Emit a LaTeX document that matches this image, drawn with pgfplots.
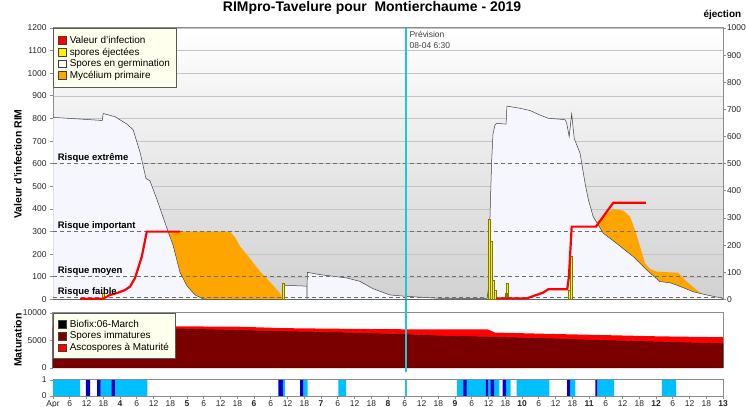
\documentclass[border=0pt]{standalone}
\usepackage{fontspec}
\setmainfont{Liberation Sans}
\usepackage{pgfplots}
\pgfplotsset{compat=1.18}
\definecolor{germ}{HTML}{F6F6FF}
\definecolor{myc}{HTML}{FFA500}
\definecolor{immat}{HTML}{7A0000}
\definecolor{wetc}{HTML}{00BFFF}
\definecolor{wetd}{HTML}{0000C8}
\definecolor{prev}{HTML}{1EC8D2}
\definecolor{gridc}{HTML}{C4C4C4}
\definecolor{riskc}{HTML}{6E6E6E}
\definecolor{legbg}{HTML}{FFFFEE}
\definecolor{olivec}{HTML}{7A7A00}
\definecolor{framec}{HTML}{8C8C8C}
\pgfplotsset{
  panel/.style={
    scale only axis, width=670bp, xmin=0, xmax=240,
    anchor=south west,
    tick align=outside, major tick length=3bp,
    tick label style={font=\fontsize{8.5}{10}\selectfont, text=black!85},
    /pgf/number format/assume math mode=true,
    /pgf/number format/1000 sep={},
    scaled y ticks=false,
    axis line style={draw=framec, line width=1bp},
    tick style={draw=framec, line width=0.8bp},
    legend cell align=left,
  },
  sq/.style={legend image code/.code={\draw[##1, draw=black!75, line width=0.5bp] (1.5bp,-3.9bp) rectangle (9.3bp,3.9bp); \path (11bp,0bp);}},
  leg/.style={legend style={at={(0,1)}, anchor=north west, fill=legbg, draw=black!65, line width=0.8bp,
    font=\fontsize{10}{11}\selectfont, inner xsep=5bp, inner ysep=6.5bp, row sep=0.5bp,
    nodes={inner sep=1.2bp}}},
}
\begin{document}
\begin{tikzpicture}
\path[use as bounding box] (0,0) rectangle (746bp,407bp);
% title and labels
\node[font=\bfseries\fontsize{14}{16}\selectfont, anchor=base] at (372bp,395bp) {RIMpro-Tavelure pour\ \ Montierchaume - 2019};
\node[font=\bfseries\fontsize{10}{12}\selectfont, anchor=base west] at (700bp,389bp) {éjection};
\node[rotate=90, font=\bfseries\fontsize{10.5}{12}\selectfont] at (18bp,243bp) {Valeur d'infection RIM};
\node[rotate=90, font=\bfseries\fontsize{10.5}{12}\selectfont] at (18bp,67bp) {Maturation};

% ---------------- main panel ----------------
\begin{axis}[panel, sq, leg, at={(53bp,107.5bp)}, height=271.5bp,
  ymin=0, ymax=1200, ytick={0,100,...,1200}, xtick=\empty, ytick pos=left,
  ymajorgrids, grid style={draw=gridc, line width=0.7bp},
  axis background/.style={shade, top color=white, bottom color=black!18},
]
\addlegendimage{fill=red}\addlegendentry{Valeur d'infection}
\addlegendimage{fill=yellow}\addlegendentry{spores éjectées}
\addlegendimage{fill=white}\addlegendentry{Spores en germination}
\addlegendimage{fill=myc}\addlegendentry{Mycélium primaire}
% Mycelium primaire
\addplot[fill=myc, draw=none] coordinates {(36,0) (36,300) (63.4,300) (65.2,275) (67,235) (70.6,180) (74.1,125) (77.7,78) (81.3,27) (82.4,0)} \closedcycle;
\addplot[fill=myc, draw=none] coordinates {(194.5,0) (194.5,340) (197,360) (198.4,381) (200.8,400) (204.4,392) (206.7,366) (208.5,307) (210.3,233) (212.1,160) (213.9,135) (216.3,123) (224,118) (226.4,86) (229.3,55) (231.8,30) (233.9,18) (234.5,0)} \closedcycle;
% Spores en germination
\addplot[fill=germ, draw=black!75, line width=0.5bp] coordinates {(0,805) (16.8,792) (17.6,790) (18.0,822) (22.2,808) (26.5,775) (28.7,750) (31.2,650) (33.3,535) (34.7,525) (37.3,440) (40.8,315) (43,240) (45.5,120) (48,60) (50.9,20) (53.7,3) (56,0) (82.4,0) (82.4,63) (90.9,59) (91.0,0) (91.1,120) (95.6,110) (105.3,95) (110,80) (114.6,48) (120.7,20) (126.5,14) (138.6,5) (149.4,4) (155.5,5) (156,50) (156.5,350) (157.1,603) (157.6,730) (158.3,771) (159,779) (162.3,775) (162.6,855) (167.3,845) (170.9,835) (174.5,815) (177.4,801) (183.4,795) (184,780) (184.9,720) (185.8,820) (186.7,712) (188.8,646) (190.6,513) (191.8,440) (193.5,366) (195.3,330) (197.1,293) (201.9,248) (207.9,189) (212.7,130) (217.4,79) (221,74) (223.4,64) (229.4,34) (234.2,20) (240,5)} \closedcycle;
% risk lines
\addplot[riskc, dash pattern=on 4bp off 3bp, line width=0.9bp] coordinates {(0,600) (240,600)};
\addplot[riskc, dash pattern=on 4bp off 3bp, line width=0.9bp] coordinates {(0,300) (240,300)};
\addplot[riskc, dash pattern=on 4bp off 3bp, line width=0.9bp] coordinates {(0,100) (240,100)};
\addplot[riskc, dash pattern=on 4bp off 3bp, line width=0.9bp] coordinates {(0,10) (240,10)};
% spores ejectees (right axis values x 1.2)
\addplot[ybar, bar width=2bp, bar shift=0pt, fill=yellow, draw=olivec, line width=0.4bp] coordinates {(17.9,30) (82.4,74) (156.4,354) (157.1,256) (157.8,86) (158.3,42) (162.2,30) (162.7,72) (184.8,42) (185.6,190)};
% valeur d'infection
\addplot[red, line width=2.2bp] coordinates {(9.7,3) (17.9,3) (20.4,20) (23.3,30) (25.8,42) (27.6,57) (29.4,95) (31.8,189) (33,263) (33.6,300) (45.5,300)};
\addplot[red, line width=2.2bp] coordinates {(158.7,5) (169.7,5) (175.5,30) (177.4,45) (184.2,45) (184.8,100) (185.8,322) (194.5,322) (200.7,428) (212.4,428)};
% prevision
\addplot[prev, line width=2bp] coordinates {(126.5,0) (126.5,1200)};
\node[anchor=north west, align=left, font=\fontsize{8.5}{11}\selectfont, text=black!75, inner sep=1bp] at (axis cs:127.3,1192) {Prévision\\08-04 6:30};
\node[anchor=south west, font=\bfseries\fontsize{9.5}{11}\selectfont, inner sep=1bp] at (axis cs:1.3,600) {Risque extrême};
\node[anchor=south west, font=\bfseries\fontsize{9.5}{11}\selectfont, inner sep=1bp] at (axis cs:1.3,300) {Risque important};
\node[anchor=south west, font=\bfseries\fontsize{9.5}{11}\selectfont, inner sep=1bp] at (axis cs:1.3,100) {Risque moyen};
\node[anchor=south west, font=\bfseries\fontsize{9.5}{11}\selectfont, inner sep=1bp] at (axis cs:1.3,10) {Risque faible};
\end{axis}
% right axis
\begin{axis}[panel, at={(53bp,107.5bp)}, height=271.5bp,
  ymin=0, ymax=1000, ytick={0,100,...,1000}, axis y line*=right, axis x line=none,
  yticklabel style={inner sep=0.8bp}]
\addplot[draw=none] coordinates {(0,0)};
\end{axis}

% ---------------- maturation ----------------
\begin{axis}[panel, sq, leg, at={(53bp,39bp)}, height=55bp,
  ymin=0, ymax=10000, ytick={0,5000,10000}, xtick=\empty, ytick pos=left, clip=false,
  legend style={inner ysep=5.5bp},
]
\addlegendimage{fill=black}\addlegendentry{Biofix:06-March}
\addlegendimage{fill=immat}\addlegendentry{Spores immatures}
\addlegendimage{fill=red}\addlegendentry{Ascospores à Maturité}
\addplot[fill=red, draw=none] coordinates {(0,7750) (43.7,7580) (67,7500) (82.4,7250) (99.2,7150) (123.2,7050) (138.6,7000) (155.8,7000) (158.3,6450) (178,6200) (196,6000) (217.4,5750) (240,5600)} \closedcycle;
\addplot[fill=immat, draw=black, line width=0.4bp] coordinates {(0,7350) (43.7,7100) (67,6800) (82.4,6600) (99.2,6450) (123.2,6100) (138.6,5800) (155.8,5600) (178,5300) (196,5000) (217.4,4700) (240,4400)} \closedcycle;
\addplot[prev, line width=2bp] coordinates {(126.5,-700) (126.5,12400)};
\end{axis}

% ---------------- wetness ----------------
\begin{axis}[panel, at={(53bp,11bp)}, height=16bp,
  ymin=0, ymax=1, ytick={0,1}, ytick pos=left, xtick pos=bottom,
  xtick={0,6,...,240},
  xticklabels={Apr,6,12,18,\textbf{4},6,12,18,\textbf{5},6,12,18,\textbf{6},6,12,18,\textbf{7},6,12,18,\textbf{8},6,12,18,\textbf{9},6,12,18,\textbf{10},6,12,18,\textbf{11},6,12,18,\textbf{12},6,12,18,\textbf{13}},
  xticklabel style={inner sep=1bp},
]
\addplot[const plot, fill=wetc, draw=none] coordinates {(0,1) (9.7,0) (17.1,1) (33.8,0) (82.3,1) (83.1,0) (89.7,1) (91.2,0) (102.2,1) (105,0) (144.8,1) (159.9,0) (162.3,1) (163.9,0) (166.1,1) (177.8,0) (185.2,1) (187.1,0) (195,1) (201,0) (218.1,1) (223.2,0) (240,0)} \closedcycle;
\addplot[const plot, fill=wetd, draw=none] coordinates {(0,0) (11.8,1) (13.3,0) (15.8,1) (17.1,0) (21.0,1) (22.2,0) (80.7,1) (82.3,0) (88.5,1) (89.7,0) (147,1) (148.2,0) (155.1,1) (155.9,0) (156.8,1) (158,0) (161.1,1) (162.3,0) (184.2,1) (185.2,0) (194.3,1) (195,0) (240,0)} \closedcycle;
\addplot[prev, line width=2bp] coordinates {(126.5,0) (126.5,1)};
\end{axis}
\end{tikzpicture}
\end{document}
